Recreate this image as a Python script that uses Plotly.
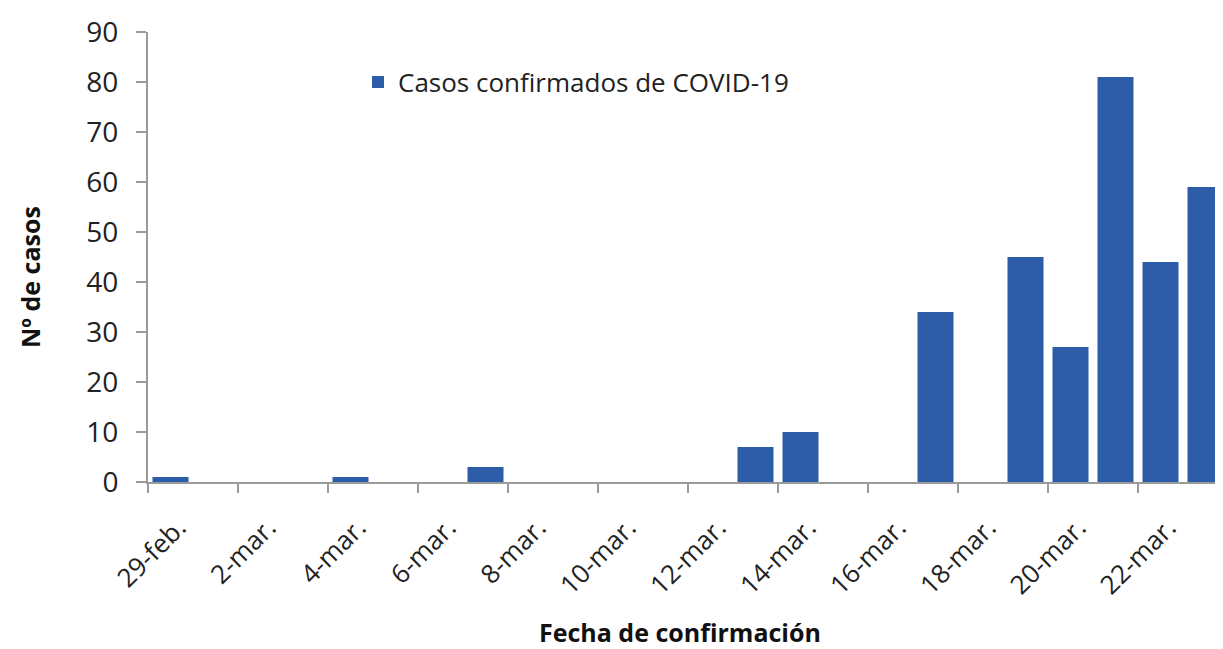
import plotly.graph_objects as go

dates = ["29-feb."] + [f"{d}-mar." for d in range(1, 24)]
cases = [1, 0, 0, 0, 1, 0, 0, 3, 0, 0, 0, 0, 0, 7, 10, 0, 0, 34, 0, 45, 27, 81, 44, 59]
series_name = "Casos confirmados de COVID-19"
y_title = "Nº de casos"
x_title = "Fecha de confirmación"

OFF = 8  # browser body margin
W, H = 1223 - OFF, 649 - OFF
L, T = 148 - OFF, 32 - OFF
BOTTOM_PX = 482 - OFF
B = H - BOTTOM_PX
R = 0
PW, PH = W - L - R, BOTTOM_PX - T


def xp(px):
    return (px - OFF - L) / PW


def yp(py):
    return (BOTTOM_PX - (py - OFF)) / PH


FONT = "Open Sans"
BAR = "#2D5DA8"
AX = "#9a9a9a"
TXT = "#222222"

fig = go.Figure()
fig.add_trace(go.Bar(x=dates, y=cases, name=series_name,
                     marker=dict(color=BAR, line=dict(width=0))))

fig.update_layout(
    width=W, height=H,
    margin=dict(l=L, r=R, t=T, b=B, autoexpand=False),
    paper_bgcolor="white", plot_bgcolor="white",
    bargap=0.2,
    font=dict(family=FONT, color=TXT),
    showlegend=True,
    legend=dict(x=xp(358), y=yp(82), xanchor="left", yanchor="middle",
                font=dict(size=26, family=FONT, color=TXT), bgcolor="rgba(0,0,0,0)",
                itemwidth=30),
    xaxis=dict(type="category", categoryorder="array", categoryarray=dates,
               range=[-0.5, -0.5 + PW / 45.0],
               tickmode="linear", tick0=0, dtick=2, tickson="boundaries",
               ticks="outside", ticklen=9, tickcolor=AX, tickwidth=2,
               showline=True, linecolor=AX, linewidth=2,
               tickangle=-45, tickfont=dict(size=26, family=FONT, color=TXT),
               ticklabelstandoff=18, ticklabelshift=8,
               showgrid=False, zeroline=False, automargin=False),
    yaxis=dict(range=[0, 90], tickmode="linear", tick0=0, dtick=10,
               ticks="outside", ticklen=10, tickcolor=AX, tickwidth=2,
               showline=True, linecolor=AX, linewidth=2,
               tickfont=dict(size=28, family=FONT, color=TXT),
               ticklabelstandoff=12,
               showgrid=False, zeroline=False, automargin=False),
    annotations=[
        dict(text=f"<b>{y_title}</b>", xref="paper", yref="paper",
             x=xp(30), y=yp(277), textangle=-90,
             showarrow=False, xanchor="center", yanchor="middle",
             font=dict(size=25, family=FONT, color="#111111")),
        dict(text=f"<b>{x_title}</b>", xref="paper", yref="paper",
             x=xp(680), y=yp(632),
             showarrow=False, xanchor="center", yanchor="middle",
             font=dict(size=25, family=FONT, color="#111111")),
    ],
)

fig.write_html("out.html")
